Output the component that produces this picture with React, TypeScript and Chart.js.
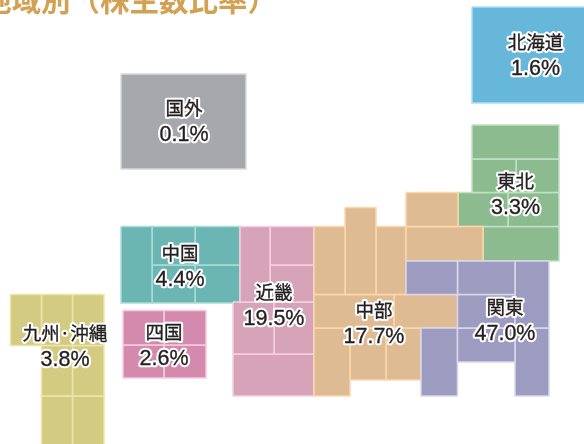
import React, { useEffect, useRef } from "react";
import { Chart, registerables } from "chart.js";

Chart.register(...registerables);

type Tile = [number, number, number, number]; // left, top, right, bottom in map units

const titleText = "地域別（株主数比率）";

const regions = ["関東", "中部", "近畿", "中国", "四国", "九州·沖縄", "東北", "北海道", "国外"];
const shares = ["47.0%", "17.7%", "19.5%", "4.4%", "2.6%", "3.8%", "3.3%", "1.6%", "0.1%"];
const labelX = [505, 374, 274, 180, 164, 65, 515.5, 535.5, 184];
const labelY = [320.5, 323.5, 305.5, 266.5, 345.5, 346.5, 194.5, 55.5, 121.5];

const fills = ["#9e9bc0", "#dfbb94", "#d6a3b9", "#6bb6b2", "#d48aad", "#d3cb82", "#8cbb90", "#66b7da", "#a7a8ac"];
const edges = ["#d9d7ea", "#fdd7ac", "#f6d0e2", "#a9ddd9", "#f8cbe0", "#ece7a8", "#c0e2c2", "#a9dff5", "#d8d9dd"];

const kantoTiles: Tile[] = [
  [406, 261, 457.5, 294.5], [457.5, 261, 515, 294.5], [515, 261, 549, 328],
  [457.5, 294.5, 515, 328], [457.5, 328, 515, 362], [515, 328, 549, 396], [421, 328, 457.5, 396],
];
const chubuTiles: Tile[] = [
  [406, 192.5, 458, 226.5], [406, 226.5, 483, 261],
  [314, 226.5, 345, 294.5], [345, 207.5, 376, 294.5], [376, 226.5, 406, 294.5],
  [314, 294.5, 394, 328], [394, 294.5, 458, 328],
  [314, 328, 350, 396], [350, 328, 386, 380], [386, 328, 421, 380],
];
const kinkiTiles: Tile[] = [
  [240, 226.5, 270, 302], [270, 226.5, 314, 265], [270, 265, 314, 302],
  [233, 302, 274, 354], [274, 302, 314, 354], [233, 354, 314, 396],
];
const chugokuTiles: Tile[] = [
  [121, 226.5, 152, 303], [152, 226.5, 195, 265], [195, 226.5, 240, 265],
  [152, 265, 195, 303], [195, 265, 240, 303],
];
const shikokuTiles: Tile[] = [
  [123, 310.5, 164, 345], [164, 310.5, 206, 345], [123, 345, 164, 378], [164, 345, 206, 378],
];
const kyushuTiles: Tile[] = [
  [10.5, 294.5, 41.5, 345.5], [41.5, 294.5, 72.5, 345.5], [72.5, 294.5, 104, 345.5],
  [41.5, 345.5, 72.5, 396], [72.5, 345.5, 104, 396], [41.5, 396, 72.5, 450], [72.5, 396, 104, 450],
];
const tohokuTiles: Tile[] = [
  [472, 125, 559, 159], [472, 159, 516, 192.5], [516, 159, 559, 192.5],
  [458, 192.5, 508, 226.5], [508, 192.5, 559, 226.5], [483, 226.5, 559, 261],
];
const hokkaidoTiles: Tile[] = [[472, 7, 590, 103]];
const overseasTiles: Tile[] = [[121, 74, 246, 169]];

const regionTiles = [
  kantoTiles, chubuTiles, kinkiTiles, chugokuTiles, shikokuTiles,
  kyushuTiles, tohokuTiles, hokkaidoTiles, overseasTiles,
];

const corners = ([l, t, r, b]: Tile) => [
  { x: l, y: t }, { x: r, y: t }, { x: r, y: b }, { x: l, y: b }, { x: l, y: t },
];

const textPlugin = {
  id: "mapText",
  afterDatasetsDraw(chart: any) {
    const { ctx, scales } = chart;
    const xs = scales.x;
    const ys = scales.y;
    ctx.save();
    ctx.textAlign = "center";
    ctx.textBaseline = "middle";
    ctx.lineJoin = "round";
    const outlined = (text: string, x: number, y: number) => {
      ctx.lineWidth = 4.5;
      ctx.strokeStyle = "#ffffff";
      ctx.strokeText(text, x, y);
      ctx.lineWidth = 0.35;
      ctx.strokeStyle = "#231f20";
      ctx.strokeText(text, x, y);
      ctx.fillStyle = "#231f20";
      ctx.fillText(text, x, y);
    };
    regions.forEach((name, i) => {
      const x = xs.getPixelForValue(labelX[i]);
      const y = ys.getPixelForValue(labelY[i]);
      ctx.font = '400 18.5px "Noto Sans CJK JP"';
      outlined(name, x, y - 13.5);
      ctx.font = '400 21.5px "Liberation Sans"';
      outlined(shares[i], x, y + 14);
    });
    ctx.textAlign = "left";
    ctx.textBaseline = "alphabetic";
    ctx.font = '700 29.5px "Noto Sans CJK JP"';
    ctx.fillStyle = "#d2a154";
    ctx.fillText(titleText, xs.getPixelForValue(-18), ys.getPixelForValue(11));
    ctx.restore();
  },
};

export default function App() {
  const ref = useRef<HTMLCanvasElement>(null);
  useEffect(() => {
    if (!ref.current) return;
    const datasets: any[] = [];
    regionTiles.forEach((tiles, r) => {
      tiles.forEach((tile, t) => {
        datasets.push({
          label: `${regions[r]} ${t + 1}`,
          data: corners(tile),
          showLine: true,
          fill: "shape",
          tension: 0,
          pointRadius: 0,
          pointHoverRadius: 0,
          borderWidth: 1.5,
          borderColor: edges[r],
          backgroundColor: fills[r],
        });
      });
    });
    const chart = new Chart(ref.current, {
      type: "scatter",
      data: { datasets },
      options: {
        animation: false,
        responsive: false,
        layout: { padding: 0 },
        events: [],
        plugins: { legend: { display: false }, tooltip: { enabled: false }, title: { display: false } },
        scales: {
          x: { type: "linear", min: 0, max: 584, display: false },
          y: { type: "linear", min: 0, max: 444, reverse: true, display: false },
        },
      },
      plugins: [textPlugin],
    } as any);
    return () => chart.destroy();
  }, []);
  return (
    <div style={{ position: "fixed", left: 0, top: 0, width: 584, height: 444, background: "#fff" }}>
      <canvas ref={ref} width={584} height={444} style={{ display: "block" }} />
    </div>
  );
}
